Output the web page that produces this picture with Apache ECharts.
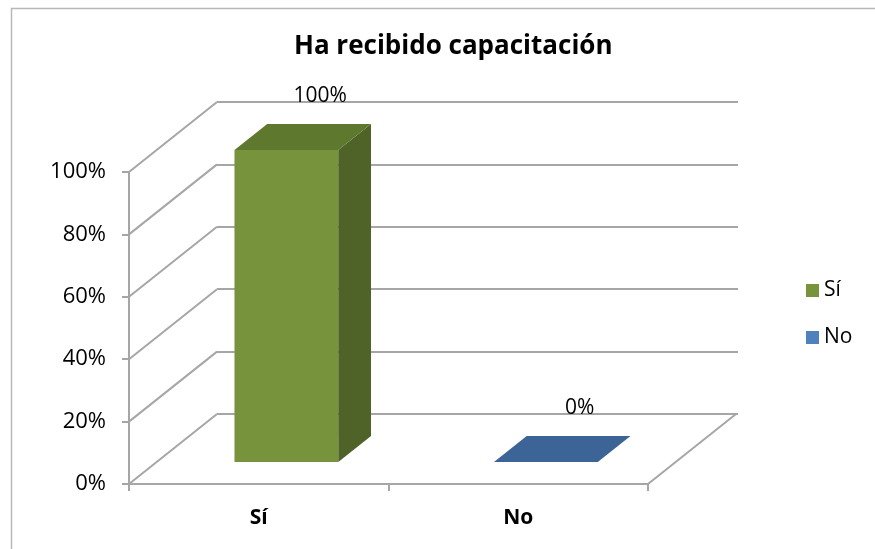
<!DOCTYPE html>
<html>
<head>
<meta charset="utf-8">
<script src="https://cdn.jsdelivr.net/npm/echarts@6/dist/echarts.min.js"></script>
<style>
  html, body { margin: 0; padding: 0; background: #fff; }
  #chart { width: 875px; height: 549px; }
</style>
</head>
<body>
<div id="chart"></div>
<script>
// data
var categories = ['Sí', 'No']
var seriesNames = ['Sí', 'No']
var values = [100, 0]
var yTicks = [0, 20, 40, 60, 80, 100]

// pseudo 3D depth (pixels) and bar placement in depth
var DX = 88, DY = -70
var F0 = 0.314, F1 = 0.686
var FONT = 'Open Sans'
var GRID = '#A6A6A6'

var colors = [
    { front: '#77933C', side: '#4F6228', top: '#5E792D', legend: '#77933C' },
    { front: '#4F81BD', side: '#385D8A', top: '#3C6496', legend: '#4F81BD' }
]

function barItem(idx) {
    return function (params, api) {
        var cs = params.coordSys
        var band = cs.width / categories.length
        var c = api.coord([api.value(0), 0])
        var t = api.coord([api.value(0), api.value(1)])
        var w = band * 0.4
        var x0 = c[0] - w / 2 + F0 * DX, x1 = x0 + w
        var yb = c[1] + F0 * DY, yt = t[1] + F0 * DY
        var ddx = (F1 - F0) * DX, ddy = (F1 - F0) * DY
        var col = colors[idx]
        var children = []
        if (yb - yt > 0.5) {
            children.push({ type: 'rect', shape: { x: x0, y: yt, width: w, height: yb - yt }, style: { fill: col.front } })
            children.push({ type: 'polygon', shape: { points: [[x1, yt], [x1 + ddx, yt + ddy], [x1 + ddx, yb + ddy], [x1, yb]] }, style: { fill: col.side } })
        }
        children.push({ type: 'polygon', shape: { points: [[x0, yt], [x1, yt], [x1 + ddx, yt + ddy], [x0 + ddx, yt + ddy]] }, style: { fill: col.top } })
        children.push({
            type: 'text',
            style: {
                text: api.value(1) + '%', x: (x0 + x1) / 2 + ddx + 1, y: yt + ddy - 28,
                align: 'center', verticalAlign: 'middle', fill: '#000', font: '21px "' + FONT + '"'
            }
        })
        return { type: 'group', children: children }
    }
}

function depthLines(params, api) {
    var cs = params.coordSys
    var y = api.coord([0, api.value(1)])[1]
    var lines = [{ type: 'line', shape: { x1: cs.x, y1: y, x2: cs.x + DX, y2: y + DY }, style: { stroke: GRID, lineWidth: 2 } }]
    if (api.value(1) === 0) {
        var xr = cs.x + cs.width
        lines.push({ type: 'line', shape: { x1: xr, y1: y, x2: xr + DX, y2: y + DY }, style: { stroke: GRID, lineWidth: 2 } })
    }
    return { type: 'group', children: lines }
}

var chart = echarts.init(document.getElementById('chart'))

var series = [
    {
        type: 'custom', xAxisIndex: 0, yAxisIndex: 0, silent: true, z: 1,
        renderItem: depthLines,
        data: yTicks.map(function (v) { return [0, v] })
    }
]
seriesNames.forEach(function (name, i) {
    series.push({
        name: name, type: 'custom', xAxisIndex: 0, yAxisIndex: 0, z: 3,
        itemStyle: { color: colors[i].legend },
        renderItem: barItem(i),
        data: [[i, values[i]]]
    })
})

var option = {
    animation: false,
    textStyle: { fontFamily: FONT },
    title: {
        text: 'Ha recibido capacitación',
        left: 289, top: 29,
        textStyle: { fontFamily: FONT, fontSize: 26, fontWeight: 'bold', color: '#000' }
    },
    legend: {
        orient: 'vertical', left: 801, top: 275,
        icon: 'rect', itemWidth: 13, itemHeight: 13, itemGap: 26,
        itemStyle: { borderWidth: 0 },
        data: seriesNames,
        textStyle: { fontFamily: FONT, fontSize: 21, color: '#000' }
    },
    graphic: [
        { type: 'rect', left: 9, top: 6, shape: { width: 900, height: 600 }, style: { fill: null, stroke: '#B8B8B8', lineWidth: 1.5 }, z: -10 }
    ],
    grid: [
        { left: 129, right: 227, top: 172, bottom: 65 },
        { left: 217, right: 137, top: 102, bottom: 135 }
    ],
    xAxis: [
        {
            type: 'category', gridIndex: 0, data: categories,
            axisLine: { lineStyle: { color: GRID, width: 2 } },
            axisTick: { show: true, length: 7, lineStyle: { color: GRID, width: 2 } },
            axisLabel: { margin: 24, fontFamily: FONT, fontSize: 21, fontWeight: 'bold', color: '#000' }
        },
        { type: 'category', gridIndex: 1, data: categories, show: false }
    ],
    yAxis: [
        {
            type: 'value', gridIndex: 0, min: 0, max: 100, interval: 20,
            axisLine: { show: true, lineStyle: { color: GRID, width: 2 } },
            axisTick: { show: true, length: 7, lineStyle: { color: GRID, width: 2 } },
            splitLine: { show: false },
            axisLabel: { formatter: '{value}%', margin: 23, fontFamily: FONT, fontSize: 22, color: '#000' }
        },
        {
            type: 'value', gridIndex: 1, min: 0, max: 100, interval: 20,
            axisLine: { show: false }, axisTick: { show: false }, axisLabel: { show: false },
            splitLine: { show: true, lineStyle: { color: GRID, width: 2 } }
        }
    ],
    series: series
}

chart.setOption(option)
</script>
</body>
</html>
